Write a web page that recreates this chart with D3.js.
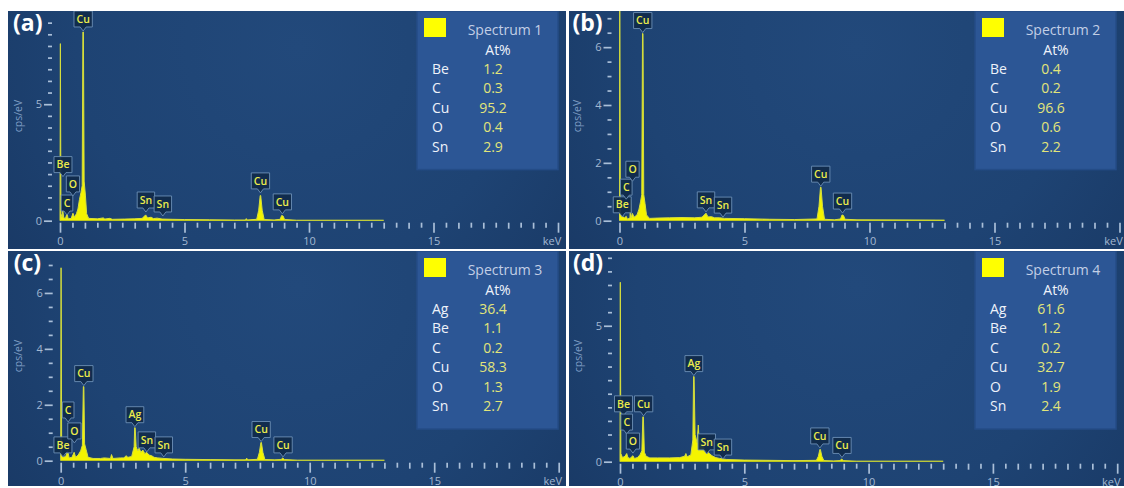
<!DOCTYPE html>
<html>
<head>
<meta charset="utf-8">
<script src="https://cdn.jsdelivr.net/npm/d3@7"></script>
<style>
  html, body { margin: 0; padding: 0; background: #ffffff; }
  svg { display: block; }
  text { font-family: "Open Sans", "Noto Sans", sans-serif; }
</style>
</head>
<body>
<svg id="chart" width="1124" height="488"></svg>
<script>
// ---------- EDS spectra: [energy keV, counts cps/eV] ----------
const spectrum1 = [[0,0],[0.015,7.6],[0.04,0.3],[0.08,0.15],[0.11,0.45],[0.15,0.12],[0.22,0.1],[0.28,0.3],[0.33,0.08],[0.45,0.1],[0.52,0.32],[0.58,0.15],[0.66,0.3],[0.72,0.5],[0.78,0.9],[0.84,1.2],[0.89,1.5],[0.92,8.1],[0.94,8.1],[0.97,1.7],[1.02,1.1],[1.07,0.3],[1.15,0.1],[1.5,0.08],[1.74,0.12],[1.8,0.07],[2.0,0.1],[2.1,0.06],[2.6,0.07],[2.98,0.08],[3.3,0.1],[3.44,0.25],[3.52,0.12],[3.66,0.15],[3.75,0.09],[3.9,0.11],[4.1,0.07],[4.5,0.06],[5.0,0.05],[6.0,0.04],[7.0,0.03],[7.45,0.03],[7.48,0.09],[7.52,0.03],[7.9,0.06],[7.98,0.45],[8.04,1.08],[8.06,1.08],[8.12,0.45],[8.2,0.05],[8.6,0.03],[8.84,0.06],[8.9,0.22],[8.96,0.2],[9.02,0.05],[9.5,0.02],[13.0,0.02]];
const spectrum2 = [[0,0],[0.01,7.5],[0.035,0.3],[0.11,0.15],[0.2,0.1],[0.27,0.15],[0.32,0.05],[0.42,0.1],[0.44,0.75],[0.46,0.1],[0.52,0.25],[0.58,0.12],[0.7,0.2],[0.78,0.4],[0.84,0.65],[0.89,0.9],[0.92,6.47],[0.94,6.47],[0.97,0.9],[1.02,0.6],[1.08,0.2],[1.2,0.08],[1.5,0.09],[2.0,0.1],[2.5,0.11],[3.0,0.1],[3.3,0.12],[3.46,0.26],[3.54,0.13],[3.68,0.14],[3.8,0.1],[4.0,0.1],[4.2,0.08],[5.0,0.07],[6.0,0.05],[7.0,0.04],[7.9,0.06],[7.98,0.5],[8.04,1.16],[8.06,1.16],[8.12,0.5],[8.2,0.05],[8.6,0.03],[8.84,0.06],[8.9,0.2],[8.96,0.18],[9.02,0.05],[9.5,0.03],[13.0,0.02]];
const spectrum3 = [[0,0],[0.015,6.9],[0.04,0.25],[0.1,0.12],[0.2,0.15],[0.28,0.35],[0.34,0.1],[0.45,0.12],[0.54,0.3],[0.6,0.12],[0.7,0.2],[0.8,0.35],[0.87,0.55],[0.91,2.65],[0.93,2.65],[0.96,0.6],[1.02,0.4],[1.1,0.12],[1.3,0.08],[1.6,0.08],[1.75,0.1],[2.0,0.08],[2.04,0.22],[2.1,0.08],[2.4,0.1],[2.55,0.1],[2.62,0.18],[2.7,0.12],[2.85,0.15],[2.95,0.5],[2.97,1.18],[2.99,1.18],[3.03,0.5],[3.1,0.35],[3.15,0.45],[3.22,0.3],[3.3,0.38],[3.38,0.25],[3.45,0.3],[3.55,0.2],[3.65,0.18],[3.75,0.12],[3.9,0.1],[4.15,0.08],[4.5,0.06],[5.0,0.05],[6.0,0.04],[7.0,0.03],[7.42,0.03],[7.47,0.09],[7.52,0.03],[7.9,0.05],[7.98,0.3],[8.04,0.65],[8.06,0.65],[8.12,0.3],[8.2,0.04],[8.6,0.03],[8.85,0.04],[8.92,0.1],[8.98,0.04],[9.5,0.02],[13.0,0.02]];
const spectrum4 = [[0,0],[0.012,6.6],[0.035,0.3],[0.1,0.15],[0.2,0.2],[0.27,0.3],[0.32,0.15],[0.4,0.12],[0.52,0.22],[0.58,0.12],[0.7,0.15],[0.8,0.25],[0.88,0.4],[0.92,1.65],[0.94,1.65],[0.98,0.35],[1.05,0.2],[1.2,0.14],[1.5,0.14],[2.0,0.14],[2.4,0.15],[2.6,0.2],[2.65,0.3],[2.7,0.18],[2.85,0.25],[2.93,0.8],[2.96,3.13],[2.98,3.13],[3.02,1.0],[3.1,0.7],[3.15,1.35],[3.18,0.8],[3.25,0.6],[3.32,0.62],[3.4,0.45],[3.5,0.37],[3.6,0.3],[3.7,0.22],[3.85,0.15],[4.0,0.12],[4.3,0.08],[5.0,0.06],[6.0,0.05],[7.0,0.04],[7.9,0.05],[7.98,0.2],[8.04,0.45],[8.06,0.45],[8.12,0.2],[8.2,0.04],[8.6,0.03],[8.85,0.04],[8.92,0.1],[8.98,0.04],[9.5,0.02],[13.0,0.02]];

// ---------- peak markers: [element, energy keV, marker height cps/eV] ----------
const peaks1 = [["Be",0.12,1.85],["C",0.28,0.2],["O",0.52,1.02],["Cu",0.93,8.1],["Sn",3.45,0.33],["Sn",4.13,0.16],["Cu",8.05,1.15],["Cu",8.93,0.25]];
const peaks2 = [["Be",0.11,0.1],["C",0.27,0.71],["O",0.52,1.33],["Cu",0.93,6.47],["Sn",3.46,0.27],["Sn",4.14,0.09],["Cu",8.05,1.16],["Cu",8.92,0.23]];
const peaks3 = [["Be",0.09,0.1],["C",0.3,1.35],["O",0.55,0.6],["Cu",0.93,2.65],["Ag",2.98,1.18],["Sn",3.46,0.28],["Sn",4.14,0.1],["Cu",8.05,0.65],["Cu",8.93,0.1]];
const peaks4 = [["Be",0.14,1.65],["C",0.27,0.98],["O",0.52,0.28],["Cu",0.95,1.65],["Ag",2.97,3.13],["Sn",3.49,0.25],["Sn",4.14,0.06],["Cu",8.04,0.47],["Cu",8.93,0.12]];

// ---------- quantification tables ----------
const spectrumNames = ["Spectrum 1","Spectrum 2","Spectrum 3","Spectrum 4"];
const elements1 = ["Be","C","Cu","O","Sn"];
const atPercent1 = ["1.2","0.3","95.2","0.4","2.9"];
const elements2 = ["Be","C","Cu","O","Sn"];
const atPercent2 = ["0.4","0.2","96.6","0.6","2.2"];
const elements3 = ["Ag","Be","C","Cu","O","Sn"];
const atPercent3 = ["36.4","1.1","0.2","58.3","1.3","2.7"];
const elements4 = ["Ag","Be","C","Cu","O","Sn"];
const atPercent4 = ["61.6","1.2","0.2","32.7","1.9","2.4"];

// ---------- axes ----------
const panelLetters = ["(a)","(b)","(c)","(d)"];
const xTickLabels = [0,5,10,15];
const yTickLabels1 = [0,5];
const yTickLabels2 = [0,2,4,6];
const yTickLabels3 = [0,2,4,6];
const yTickLabels4 = [0,5];
const yTickMax = [8.5, 7, 7, 7.5];
const yDomainTop = [9.0, 7.25, 7.5, 7.75];
const xDomain = [0, 20];

// ---------- layout ----------
const W = 1124, H = 488;
const panelBoxes = [
  {x: 8,   y: 11,  w: 558, h: 238},
  {x: 569, y: 11,  w: 555, h: 238},
  {x: 8,   y: 251, w: 558, h: 235},
  {x: 569, y: 251, w: 555, h: 235}
];
const plotLeft = [52, 50.5, 52.7, 51];
const plotBottom = [209.7, 209.7, 209.7, 210.7];
const pxPerKeV = [24.9, 25.0, 24.9, 24.86];

const spectra = [spectrum1, spectrum2, spectrum3, spectrum4];
const peaks = [peaks1, peaks2, peaks3, peaks4];
const elements = [elements1, elements2, elements3, elements4];
const atPercents = [atPercent1, atPercent2, atPercent3, atPercent4];
const yTickLabels = [yTickLabels1, yTickLabels2, yTickLabels3, yTickLabels4];

const COLORS = {
  spectrum: "#f4f400",
  baseline: "#d6de3c",
  tick: "#aabfd8",
  tickText: "#a3b8d2",
  axisTitle: "#7d9cc3",
  legendFill: "#2c5695",
  legendStroke: "#244c87",
  legendTitle: "#c3cfe6",
  legendText: "#eef2fa",
  legendValue: "#e2e57a",
  markerFill: "#102a4a",
  markerStroke: "#6c8fb6",
  markerText: "#ecec4c"
};

const svg = d3.select("#chart");
const defs = svg.append("defs");
svg.append("rect").attr("width", W).attr("height", H).attr("fill", "#ffffff");

panelBoxes.forEach((p, i) => {
  const g = svg.append("g").attr("class", "panel");

  // panel background with soft radial glow
  const grad = defs.append("radialGradient")
    .attr("id", "bg" + i)
    .attr("gradientUnits", "userSpaceOnUse")
    .attr("cx", p.x + p.w * 0.52).attr("cy", p.y + p.h * 0.15)
    .attr("r", p.w * 0.72);
  grad.append("stop").attr("offset", 0).attr("stop-color", "#22497b");
  grad.append("stop").attr("offset", 0.55).attr("stop-color", "#1e4373");
  grad.append("stop").attr("offset", 1).attr("stop-color", "#183762");
  g.append("rect")
    .attr("x", p.x).attr("y", p.y).attr("width", p.w).attr("height", p.h)
    .attr("fill", `url(#bg${i})`);

  const clip = defs.append("clipPath").attr("id", "clip" + i);
  clip.append("rect").attr("x", p.x).attr("y", p.y).attr("width", p.w).attr("height", p.h);
  const inner = g.append("g").attr("clip-path", `url(#clip${i})`);

  const x0 = p.x + plotLeft[i];
  const y0 = p.y + plotBottom[i];
  const x = d3.scaleLinear().domain(xDomain).range([x0, x0 + pxPerKeV[i] * 20]);
  const y = d3.scaleLinear().domain([0, yDomainTop[i]]).range([y0, p.y]);

  // x axis ticks every 0.5 keV
  const xTicks = d3.range(0, 20.001, 0.5);
  const ax = inner.append("g")
    .attr("transform", `translate(0,${y0 + 2})`)
    .call(d3.axisBottom(x).tickValues(xTicks)
      .tickFormat(d => xTickLabels.includes(d) ? String(d) : "")
      .tickSizeOuter(0));
  ax.select(".domain").remove();
  ax.selectAll(".tick line")
    .attr("y2", d => d % 5 === 0 ? 10 : (d % 1 === 0 ? 6 : 5))
    .attr("stroke", COLORS.tick).attr("stroke-width", 1.7);
  ax.selectAll(".tick text")
    .attr("y", 18).attr("dy", "0.35em")
    .attr("fill", COLORS.tickText)
    .style("font-size", "11px");
  inner.append("text")
    .attr("x", x(20) - 6).attr("y", y0 + 20).attr("dy", "0.35em")
    .attr("text-anchor", "middle")
    .attr("fill", COLORS.tickText)
    .style("font-size", "11px")
    .text("keV");

  // y axis ticks every 0.5 cps/eV
  const yTicks = d3.range(0, yTickMax[i] + 0.001, 0.5);
  const labels = yTickLabels[i];
  const ay = inner.append("g")
    .attr("transform", `translate(${x0 - 8},0)`)
    .call(d3.axisLeft(y).tickValues(yTicks)
      .tickFormat(d => labels.includes(d) ? String(d) : "")
      .tickSizeOuter(0));
  ay.select(".domain").remove();
  ay.selectAll(".tick line")
    .attr("x2", d => labels.includes(d) ? -8 : -4)
    .attr("stroke", COLORS.tick).attr("stroke-width", 1.7);
  ay.selectAll(".tick text")
    .attr("x", -10)
    .attr("fill", COLORS.tickText)
    .style("font-size", "11px");

  inner.append("text")
    .attr("transform", `translate(${x0 - 42},${p.y + 105}) rotate(-90)`)
    .attr("text-anchor", "middle").attr("dy", "0.35em")
    .attr("fill", COLORS.axisTitle)
    .style("font-size", "10.5px")
    .text("cps/eV");

  // spectrum
  const area = d3.area()
    .x(d => x(d[0]))
    .y0(y(0))
    .y1(d => y(d[1]));
  const line = d3.line().x(d => x(d[0])).y(d => y(d[1]));
  inner.append("path").datum(spectra[i])
    .attr("d", area).attr("fill", COLORS.spectrum);
  inner.append("path").datum(spectra[i])
    .attr("d", line).attr("fill", "none")
    .attr("stroke", COLORS.baseline).attr("stroke-width", 1);

  // peak markers
  const mk = inner.selectAll(".marker").data(peaks[i]).join("g")
    .attr("class", "marker")
    .attr("transform", d => `translate(${x(d[1])},${y(d[2])})`);
  mk.each(function(d) {
    const m = d3.select(this);
    const shape = m.append("path");
    const t = m.append("text")
      .attr("x", 0).attr("y", -13).attr("dy", "0.35em")
      .attr("text-anchor", "middle")
      .attr("fill", COLORS.markerText)
      .style("font-size", "10.5px").style("font-weight", "600")
      .text(d[0]);
    const bw = t.node().getComputedTextLength() + 5;
    const hw = bw / 2;
    shape.attr("d", `M${-hw},-21 H${hw} V-5 H3 L0,-1 L-3,-5 H${-hw} Z`)
      .attr("fill", COLORS.markerFill).attr("fill-opacity", 0.92)
      .attr("stroke", COLORS.markerStroke).attr("stroke-width", 0.9);
  });

  // panel letter
  inner.append("text")
    .attr("x", x0 - 47).attr("y", p.y + 20)
    .attr("fill", "#ffffff")
    .style("font-size", "23px").style("font-weight", "700")
    .text(panelLetters[i]);

  // quantification table
  const lx = p.x + p.w - 149, ly = p.y;
  const rows = elements[i];
  const lh = 63 + 19.4 * (rows.length - 1) + 18;
  const lg = inner.append("g");
  lg.append("rect")
    .attr("x", lx).attr("y", ly).attr("width", 141).attr("height", lh)
    .attr("fill", COLORS.legendFill)
    .attr("stroke", COLORS.legendStroke).attr("stroke-width", 1.5);
  lg.append("rect")
    .attr("x", lx + 7).attr("y", ly + 7).attr("width", 22).attr("height", 19)
    .attr("fill", "#ffff00");
  lg.append("text")
    .attr("x", lx + 88).attr("y", ly + 24)
    .attr("text-anchor", "middle")
    .attr("fill", COLORS.legendTitle)
    .style("font-size", "14px")
    .text(spectrumNames[i]);
  lg.append("text")
    .attr("x", lx + 81).attr("y", ly + 44)
    .attr("text-anchor", "middle")
    .attr("fill", COLORS.legendText)
    .style("font-size", "14px")
    .text("At%");
  rows.forEach((el, k) => {
    const by = ly + 63 + 19.4 * k;
    lg.append("text")
      .attr("x", lx + 15).attr("y", by)
      .attr("fill", COLORS.legendText)
      .style("font-size", "14px")
      .text(el);
    lg.append("text")
      .attr("x", lx + 76).attr("y", by)
      .attr("text-anchor", "middle")
      .attr("fill", COLORS.legendValue)
      .style("font-size", "14px")
      .text(atPercents[i][k]);
  });
});
</script>
</body>
</html>
